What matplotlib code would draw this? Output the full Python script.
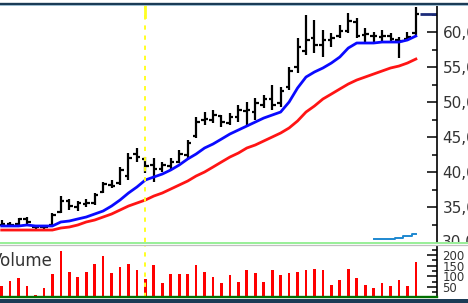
import numpy as np
import matplotlib
matplotlib.use('Agg')
import matplotlib.pyplot as plt
from matplotlib.lines import Line2D
from matplotlib.patches import Rectangle
from matplotlib.transforms import Bbox, TransformedBbox, blended_transform_factory

matplotlib.rc('font', **{'family': 'sans-serif', 'sans-serif': ['DejaVu Sans'], 'size': 11})

# weekly OHLC
opens = [32.5, 32.6, 32.6, 33.3, 32.2, 32.1, 32.4, 34.3, 35.9, 35.0,
         35.5, 35.6, 37.1, 38.2, 38.4, 39.5, 42.6, 41.9, 41.0, 40.4,
         40.9, 41.5, 42.5, 45.2, 47.5, 47.5, 48.0, 47.0, 47.9, 48.7,
         48.6, 49.6, 50.5, 49.8, 52.2, 55.0, 57.3, 59.2, 58.2, 58.8,
         59.4, 60.1, 61.5, 59.6, 59.5, 59.3, 59.4, 58.9, 59.0, 59.8]
highs = [33.1, 32.9, 33.5, 33.6, 32.3, 32.4, 34.1, 36.6, 36.1, 35.9,
         36.1, 37.0, 38.6, 38.9, 40.7, 42.7, 43.4, 42.1, 42.0, 41.4,
         42.0, 43.1, 44.6, 47.9, 48.6, 48.9, 48.1, 48.4, 49.6, 50.0,
         50.6, 51.0, 52.4, 52.1, 55.0, 59.1, 62.4, 61.7, 60.3, 59.9,
         61.0, 62.7, 62.0, 60.6, 60.0, 60.3, 59.9, 59.3, 60.0, 63.6]
lows = [32.4, 32.4, 32.4, 32.6, 31.9, 31.9, 32.3, 34.1, 34.6, 34.4,
        35.0, 35.3, 37.0, 37.7, 38.1, 38.9, 41.4, 39.9, 38.6, 40.0,
        40.3, 41.3, 42.0, 44.9, 46.7, 47.0, 46.4, 46.7, 47.1, 46.4,
        47.4, 49.1, 48.9, 49.3, 51.7, 54.1, 56.7, 57.0, 56.4, 57.9,
        59.1, 59.9, 59.1, 58.4, 58.6, 58.6, 58.4, 56.3, 58.9, 59.6]
closes = [32.6, 32.5, 33.3, 32.8, 32.1, 32.2, 33.9, 35.9, 35.2, 35.6,
          35.6, 36.7, 38.3, 38.0, 40.3, 42.0, 42.1, 40.8, 40.4, 41.0,
          41.4, 42.6, 44.2, 47.2, 47.6, 48.2, 47.1, 47.8, 48.8, 48.9,
          49.8, 50.4, 49.6, 51.6, 54.4, 57.9, 58.9, 58.1, 58.9, 59.2,
          60.1, 61.6, 59.5, 59.7, 59.4, 59.5, 59.0, 58.7, 59.3, 62.6]

ma_fast = [32.29, 32.29, 32.29, 32.43, 32.29, 32.29, 32.29, 32.86, 33.0, 33.29,
           33.57, 34.0, 34.43, 35.14, 36.0, 37.0, 37.86, 38.86, 39.29, 39.71,
           40.29, 41.0, 41.86, 42.57, 43.43, 44.0, 44.71, 45.43, 46.0, 46.57,
           47.14, 47.71, 48.14, 48.57, 50.0, 52.0, 53.57, 54.29, 54.86, 55.57,
           56.43, 57.71, 58.43, 58.43, 58.43, 58.57, 58.57, 58.57, 58.86, 59.43]
ma_slow = [31.71, 31.71, 31.71, 31.71, 31.71, 31.71, 31.71, 32.0, 32.14, 32.43,
           32.86, 33.14, 33.57, 34.0, 34.57, 35.14, 35.57, 36.0, 36.57, 37.0,
           37.57, 38.14, 38.71, 39.43, 40.0, 40.71, 41.43, 42.14, 42.71, 43.43,
           43.86, 44.43, 45.0, 45.57, 46.29, 47.29, 48.57, 49.43, 50.43, 51.14,
           51.86, 52.57, 53.14, 53.57, 54.0, 54.43, 54.86, 55.14, 55.57, 56.14]

volume = [56, 77, 93, 54, 10, 45, 109, 219, 121, 99,
          121, 160, 198, 115, 145, 160, 131, 85, 152, 69,
          109, 109, 109, 152, 121, 99, 69, 107, 75, 128,
          115, 75, 128, 107, 115, 121, 128, 136, 128, 61,
          83, 136, 91, 61, 45, 69, 53, 83, 53, 167]

extra_x = [44, 45, 46, 47, 48, 49]
extra_vals = [30.43, 30.43, 30.5, 30.64, 30.86, 31.14]

price_ticks = [35, 40, 45, 50, 55, 60]
price_labels = ['35,00', '40,00', '45,00', '50,00', '55,00', '60,00']
vol_ticks = [50, 100, 150, 200]
vol_labels = ['50', '100', '150', '200']
marker_bar = 17

x = np.arange(len(closes))

fig = plt.figure(figsize=(4.68, 3.03), dpi=100)
ax1 = fig.add_axes([0, 0.2013, 0.9338, 0.9835 - 0.2013])
ax2 = fig.add_axes([0, 0.0182, 0.9338, 0.1881 - 0.0182])

# price bars
ax1.vlines(x, lows, highs, color='black', lw=1.6)
ax1.hlines(opens, x - 0.42, x, color='black', lw=1.6)
ax1.hlines(closes, x, x + 0.42, color='black', lw=1.6)
ax1.plot(x, ma_fast, color='#0a0aff', lw=2)
ax1.plot(x, ma_slow, color='#ff1414', lw=2)
ax1.plot(extra_x, extra_vals, color='#1e88d0', lw=1.4, drawstyle='steps-mid')
ax1.hlines(closes[-1], x[-1] + 0.45, 51.5, color='#1c2c7a', lw=2)

ax1.axvline(marker_bar, color='#ffff22', lw=1.4, dashes=(2.2, 3.0))
ax1.axvline(marker_bar, ymin=0.95, ymax=1, color='#ffff22', lw=2)
ax2.axvline(marker_bar, color='#ffff22', lw=1.4, dashes=(2.2, 3.0))

ax2.bar(x, volume, width=0.32, color='#ff0000')

for ax in (ax1, ax2):
    ax.set_xlim(-0.2, 51.5)
    ax.set_xticks([])
    ax.yaxis.tick_right()
    for s in ('top', 'left', 'bottom'):
        ax.spines[s].set_visible(False)
    ax.spines['right'].set_linewidth(1.2)
    ax.tick_params(axis='y', which='major', direction='in', length=7.5,
                   width=1.1, pad=4, labelcolor='#333333')
    ax.tick_params(axis='y', which='minor', direction='in', length=3.6, width=1.1)

ax1.set_ylim(30.0, 63.86)
ax1.set_yticks(price_ticks)
ax1.set_yticklabels(price_labels, fontsize=11)
ax1.set_yticks([32.5, 37.5, 42.5, 47.5, 52.5, 57.5, 62.5], minor=True)

# partly hidden 30,00 label under the separator
clip = TransformedBbox(Bbox([[0, 0.2013], [1, 1]]), fig.transFigure)
t = ax1.text(1.0 + 4.5 / 437, 30, '30,00',
             transform=blended_transform_factory(ax1.transAxes, ax1.transData),
             fontsize=11, color='#333333', va='center', ha='left')
t.set_clip_box(clip)
t.set_clip_on(True)

ax2.set_ylim(0, 243)
ax2.set_yticks(vol_ticks)
ax2.set_yticklabels(vol_labels, fontsize=8.5)
ax2.set_yticks([25, 75, 125, 175, 225], minor=True)
ax2.spines['bottom'].set_visible(True)
ax2.spines['bottom'].set_color('#007000')
ax2.spines['bottom'].set_linewidth(1.7)

fig.text(-9 / 468, 1 - 261 / 303, 'Volume', va='center', ha='left',
         fontsize=12, color='#333333')

# frame lines
fig.add_artist(Line2D([0, 1], [0.988, 0.988], transform=fig.transFigure,
                      color='#1b3b56', lw=1.7))
fig.add_artist(Line2D([0, 1], [0.9835, 0.9835], transform=fig.transFigure,
                      color='#9bbcd0', lw=0.7))
fig.add_artist(Line2D([0, 1], [0.198, 0.198], transform=fig.transFigure,
                      color='#90ee90', lw=1.3))
fig.add_artist(Line2D([0, 1], [0.1925, 0.1925], transform=fig.transFigure,
                      color='#c0c0c0', lw=0.9))
fig.add_artist(Rectangle((0, 0), 1, 4 / 303, transform=fig.transFigure,
                         color='#1b3b56', lw=0))

fig.savefig('out.png', dpi=100)
